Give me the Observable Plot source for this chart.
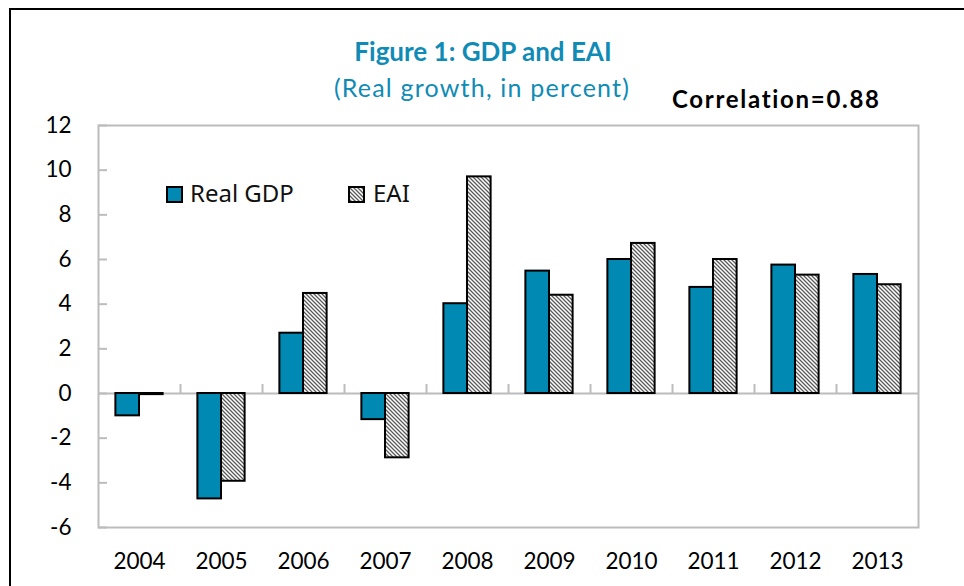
<!DOCTYPE html>
<html>
<head>
<meta charset="utf-8">
<script src="https://cdn.jsdelivr.net/npm/d3@7"></script>
<script src="https://cdn.jsdelivr.net/npm/@observablehq/plot@0.6"></script>
<style>
  html, body { margin: 0; padding: 0; background: white; }
  #wrap { position: relative; width: 964px; height: 586px; overflow: hidden; background: white; }
  #wrap svg.plot { position: absolute; left: 0; top: 0; }
  .abs { position: absolute; white-space: nowrap; }
  #border { position: absolute; left: 9px; top: 8px; width: 1200px; height: 1200px; border: 2px solid #000; }
  #title { left: 0; width: 966px; text-align: center; top: 37px; font: bold 26px Lato, sans-serif; color: #0f8bb6; line-height: 28px; }
  #subtitle { left: 0; width: 964px; text-align: center; top: 73px; font: 25px Lato, sans-serif; letter-spacing: 1.2px; color: #0f8bb6; line-height: 28px; }
  #corr { left: 672px; top: 85px; font: bold 24px Lato, sans-serif; letter-spacing: 1.7px; color: #000; line-height: 28px; }
  .sw { position: absolute; width: 17px; height: 17px; box-sizing: border-box; border: 2px solid #000; }
  .lt { position: absolute; font: 24px "Noto Sans", sans-serif; color: #111; line-height: 28px; }
</style>
</head>
<body>
<div id="wrap">
  <div id="border"></div>
</div>
<script>
const years = [2004, 2005, 2006, 2007, 2008, 2009, 2010, 2011, 2012, 2013];
const gdp = [-1.0, -4.72, 2.70, -1.17, 4.02, 5.48, 6.0, 4.75, 5.75, 5.33];
const eai = [-0.05, -3.93, 4.48, -2.88, 9.70, 4.40, 6.72, 6.0, 5.30, 4.87];
const yTicks = [-6, -4, -2, 0, 2, 4, 6, 8, 10, 12];
const seriesNames = ["Real GDP", "EAI"];
const titleText = "Figure 1: GDP and EAI";
const subtitleText = "(Real growth, in percent)";
const corrText = "Correlation=0.88";

const teal = "#0089b2";
const grey = "#bcbcbc";
const halfBar = 0.288;
const xDomain = [years[0] - 0.5, years[years.length - 1] + 0.5];
const boundaries = years.slice(1).map(y => y - 0.5);

const data = years.map((year, i) => ({year, gdp: gdp[i], eai: eai[i]}));

const chart = Plot.plot({
  width: 964,
  height: 586,
  marginLeft: 98,
  marginRight: 46,
  marginTop: 125,
  marginBottom: 59,
  style: {fontFamily: "Lato, sans-serif", fontSize: "22.5px", color: "#000", background: "transparent"},
  x: {domain: xDomain, axis: null},
  y: {domain: [yTicks[0], yTicks[yTicks.length - 1]], axis: null},
  marks: [
    Plot.frame({stroke: grey, strokeWidth: 2}),
    Plot.ruleY(yTicks, {y: d => d, x1: xDomain[0], x2: xDomain[0], insetRight: -9, stroke: grey, strokeWidth: 2}),
    Plot.ruleY([0], {stroke: grey, strokeWidth: 2}),
    Plot.ruleX(boundaries, {x: d => d, y1: 0, y2: 0, insetTop: -9, stroke: grey, strokeWidth: 2}),
    Plot.rectY(data, {x1: d => d.year - halfBar, x2: d => d.year, y1: 0, y2: "gdp", fill: teal, stroke: "#000", strokeWidth: 2}),
    Plot.rectY(data, {x1: d => d.year, x2: d => d.year + halfBar, y1: 0, y2: "eai", fill: "url(#hatch)", stroke: "#000", strokeWidth: 2}),
    Plot.axisY({ticks: yTicks, tickSize: 0, tickPadding: 27, tickFormat: d => String(d), label: null, fill: "#000"}),
    Plot.axisX({ticks: years, tickSize: 0, tickPadding: 26, tickFormat: d => String(d), label: null, fill: "#000"})
  ]
});
chart.classList.add("plot");
chart.insertAdjacentHTML("afterbegin",
  '<defs><pattern id="hatch" patternUnits="userSpaceOnUse" width="4" height="4">' +
  '<rect width="4" height="4" fill="#fff"/>' +
  '<path d="M-1,-1L5,5M-1,3L1,5M3,-1L5,1" stroke="#5a5a5a" stroke-width="1.3"/></pattern></defs>');

const wrap = document.getElementById("wrap");
wrap.insertBefore(chart, wrap.firstChild);

function addDiv(id, cls, text) {
  const d = document.createElement("div");
  if (id) d.id = id;
  d.className = cls;
  d.textContent = text;
  wrap.appendChild(d);
  return d;
}
addDiv("title", "abs", titleText);
addDiv("subtitle", "abs", subtitleText);
addDiv("corr", "abs", corrText);

// legend
const sw1 = document.createElement("div");
sw1.className = "sw"; sw1.style.left = "166px"; sw1.style.top = "186px"; sw1.style.background = teal;
wrap.appendChild(sw1);
const lt1 = addDiv(null, "lt", seriesNames[0]); lt1.style.left = "190px"; lt1.style.top = "179px";

const sw2 = document.createElement("div");
sw2.className = "sw"; sw2.style.left = "348px"; sw2.style.top = "186px";
sw2.innerHTML = '<svg width="13" height="13" style="display:block"><defs><pattern id="hatch2" patternUnits="userSpaceOnUse" width="4" height="4"><rect width="4" height="4" fill="#fff"/><path d="M-1,-1L5,5M-1,3L1,5M3,-1L5,1" stroke="#5a5a5a" stroke-width="1.3"/></pattern></defs><rect width="13" height="13" fill="url(#hatch2)"/></svg>';
wrap.appendChild(sw2);
const lt2 = addDiv(null, "lt", seriesNames[1]); lt2.style.left = "373px"; lt2.style.top = "179px";
</script>
</body>
</html>
